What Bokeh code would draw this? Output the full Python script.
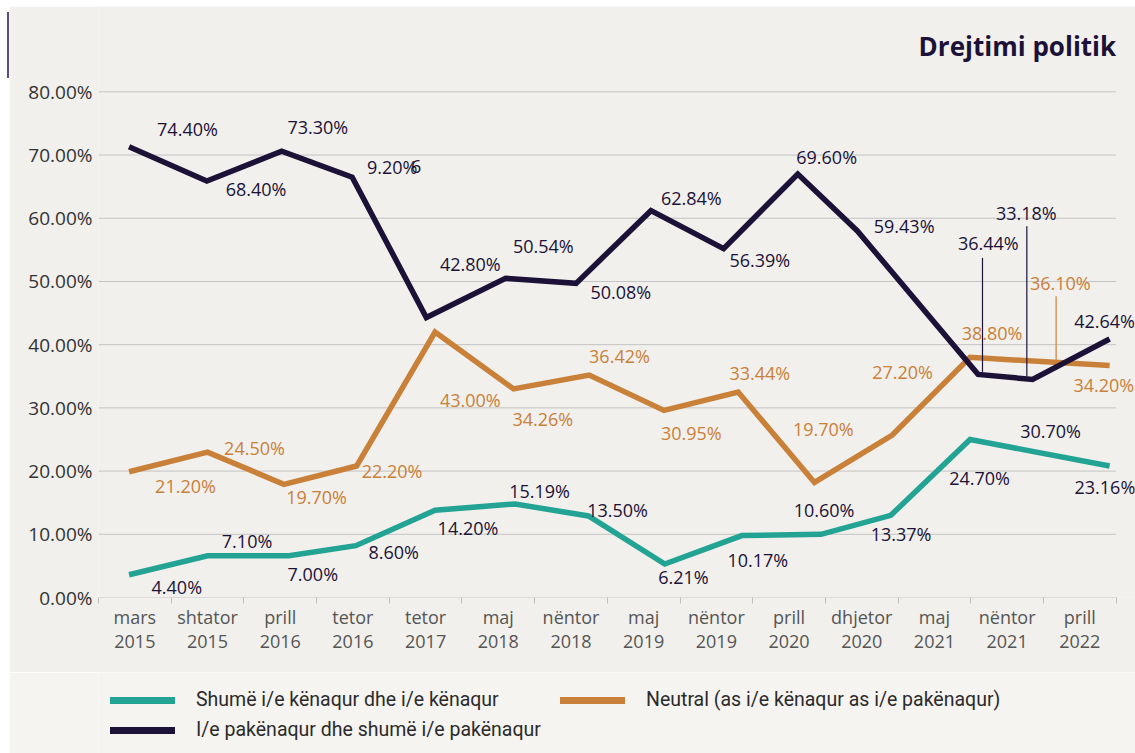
from bokeh.plotting import figure
from bokeh.models import (ColumnDataSource, LabelSet, Label, Range1d, FixedTicker,
                          Legend, LegendItem, Spacer, Div)
from bokeh.layouts import column, row
from bokeh.core.properties import value
from bokeh.embed import file_html
from bokeh.resources import INLINE

# ---------------- data ----------------
categories = ["mars\n2015", "shtator\n2015", "prill\n2016", "tetor\n2016", "tetor\n2017",
              "maj\n2018", "nëntor\n2018", "maj\n2019", "nëntor\n2019", "prill\n2020",
              "dhjetor\n2020", "maj\n2021", "nëntor\n2021", "prill\n2022"]

y_ticks = [0, 10, 20, 30, 40, 50, 60, 70, 80]
y_labels = ["0.00%", "10.00%", "20.00%", "30.00%", "40.00%", "50.00%", "60.00%", "70.00%", "80.00%"]

# x positions measured in category units (0 = left edge of first category)
satisfied_x = [0.42, 1.50, 2.62, 3.54, 4.63, 5.73, 6.74, 7.79, 8.85, 9.94, 10.90, 11.99, 13.91]
satisfied_y = [3.6, 6.6, 6.6, 8.2, 13.8, 14.8, 12.9, 5.3, 9.8, 10.0, 13.0, 25.0, 20.8]

neutral_x = [0.42, 1.50, 2.55, 3.55, 4.63, 5.71, 6.75, 7.78, 8.80, 9.85, 10.92, 11.99, 13.91]
neutral_y = [19.9, 23.0, 17.9, 20.8, 42.0, 33.0, 35.2, 29.6, 32.5, 18.2, 25.7, 38.0, 36.7]

dissatisfied_x = [0.42, 1.49, 2.52, 3.49, 4.51, 5.60, 6.57, 7.60, 8.60, 9.62, 10.44, 12.10, 12.85, 13.91]
dissatisfied_y = [71.3, 65.9, 70.6, 66.5, 44.3, 50.5, 49.7, 61.2, 55.2, 67.0, 58.0, 35.3, 34.5, 40.9]

series_names = ["Shumë i/e kënaqur dhe i/e kënaqur",
                "Neutral (as i/e kënaqur as i/e pakënaqur)",
                "I/e pakënaqur dhe shumë i/e pakënaqur"]

# data labels as printed on the chart
navy_text = ["74.40%", "68.40%", "73.30%", "9.20%", "6", "42.80%", "50.54%", "50.08%", "62.84%",
             "56.39%", "69.60%", "59.43%", "36.44%", "33.18%", "42.64%",
             "4.40%", "7.10%", "7.00%", "8.60%", "14.20%", "15.19%", "13.50%", "6.21%",
             "10.17%", "10.60%", "13.37%", "24.70%", "30.70%", "23.16%"]
navy_lx = [1.224, 2.168, 3.017, 4.040, 4.370, 5.115, 6.119, 7.185, 8.155,
           9.098, 10.017, 11.083, 12.241, 12.764, 13.840,
           1.077, 2.044, 2.948, 4.060, 5.083, 6.068, 7.141, 8.048,
           9.070, 9.982, 11.041, 12.121, 13.097, 13.845]
navy_ly = [74.18, 64.70, 74.39, 68.17, 68.17, 52.73, 55.57, 48.30, 63.27,
           53.36, 69.69, 58.77, 56.05, 60.79, 43.76,
           1.71, 8.96, 3.68, 7.24, 11.02, 16.84, 13.88, 3.24,
           5.88, 13.88, 10.04, 18.85, 26.29, 17.47]

orange_text = ["21.20%", "24.50%", "19.70%", "22.20%", "43.00%", "34.26%", "36.42%", "30.95%",
               "33.44%", "19.70%", "27.20%", "38.80%", "36.10%", "34.20%"]
orange_lx = [1.197, 2.146, 3.000, 4.038, 5.115, 6.112, 7.167, 8.155,
             9.098, 9.971, 11.061, 12.293, 13.231, 13.830]
orange_ly = [17.71, 23.67, 15.84, 20.03, 31.18, 28.22, 38.26, 25.96,
             35.49, 26.64, 35.60, 41.82, 49.77, 33.60]

# leader lines for the crowded labels at the right
leader_x = [12.161, 12.771, 13.174]
leader_top = [53.72, 58.74, 47.67]
leader_bottom = [35.70, 35.02, 37.55]
leader_color = ["#1c1238", "#1c1238", "#c98039"]

# ---------------- style ----------------
BG = "#f1f0ec"
LEG_BG = "#f5f4f1"
TEAL = "#22a393"
ORANGE = "#c98039"
NAVY = "#1c1238"
FONT = "Open Sans"
N = len(categories)

p = figure(width=1126, height=666, x_range=Range1d(0, 14.266), y_range=Range1d(0, 93.5),
           output_backend="svg", toolbar_location=None,
           min_border_left=89, min_border_right=0, min_border_top=0, min_border_bottom=75,
           background_fill_color=BG, border_fill_color=BG, outline_line_color=None)
p.grid.visible = False

# horizontal grid lines spanning the categories
p.segment(x0=[0] * len(y_ticks), y0=y_ticks, x1=[N] * len(y_ticks), y1=y_ticks,
          line_color="#c3c3c3", line_width=1)

# y axis
ya = p.yaxis[0]
ya.ticker = FixedTicker(ticks=y_ticks)
ya.major_label_overrides = {t: l for t, l in zip(y_ticks, y_labels)}
ya.axis_line_color = None
ya.major_tick_line_color = None
ya.major_tick_out = 0
ya.major_tick_in = 0
ya.minor_tick_line_color = None
ya.major_label_standoff = 6
ya.major_label_text_font = FONT
ya.major_label_text_font_size = "19px"
ya.major_label_text_color = "#333333"

# x axis: labels at category centres, tick marks at category boundaries
xa = p.xaxis[0]
centres = [i + 0.5 for i in range(N)]
bounds = [i for i in range(N + 1)]
xa.ticker = FixedTicker(ticks=centres, minor_ticks=bounds)
xa.major_label_overrides = {c: l for c, l in zip(centres, categories)}
xa.major_tick_line_color = None
xa.major_tick_out = 0
xa.major_tick_in = 0
xa.minor_tick_in = 0
xa.minor_tick_out = 6
xa.minor_tick_line_color = "#bdbdbd"
xa.axis_line_color = None
xa.major_label_standoff = 1
xa.major_label_text_font = FONT
xa.major_label_text_font_size = "18px"
xa.major_label_text_line_height = 1.0
xa.major_label_text_color = "#555555"

# series
p.line(satisfied_x, satisfied_y, line_color=TEAL, line_width=5.5, line_join="miter")
p.line(neutral_x, neutral_y, line_color=ORANGE, line_width=5.5, line_join="miter")
p.line(dissatisfied_x, dissatisfied_y, line_color=NAVY, line_width=5.5, line_join="miter")

# leader lines
p.segment(x0=leader_x, y0=leader_top, x1=leader_x, y1=leader_bottom,
          line_color=leader_color, line_width=1.2)

# data labels
for txt, lx, ly, col in [(navy_text, navy_lx, navy_ly, NAVY),
                         (orange_text, orange_lx, orange_ly, ORANGE)]:
    src = ColumnDataSource(dict(x=lx, y=ly, t=txt))
    p.add_layout(LabelSet(x="x", y="y", text="t", source=src, text_align="center",
                          text_baseline="middle", text_font=value(FONT),
                          text_font_size=value("18px"), text_color=col))

# title
p.add_layout(Label(x=N, y=87.3, text="Drejtimi politik", text_align="right",
                   text_baseline="alphabetic", text_font=FONT, text_font_size="26px",
                   text_font_style="bold", text_color=NAVY))

# ---------------- legend strip ----------------
leg = figure(width=1126, height=81, x_range=Range1d(0, 1), y_range=Range1d(-2000, -1000),
             output_backend="svg", toolbar_location=None, x_axis_type=None, y_axis_type=None,
             min_border_left=89, min_border_right=0, min_border_top=0, min_border_bottom=0,
             background_fill_color=LEG_BG, border_fill_color=LEG_BG, outline_line_color=None)
leg.grid.visible = False
# legend proxies (same series, outside the strip's visible range)
l1 = leg.line(satisfied_x, satisfied_y, line_color=TEAL, line_width=7, line_cap="round")
l2 = leg.line(neutral_x, neutral_y, line_color=ORANGE, line_width=7, line_cap="round")
l3 = leg.line(dissatisfied_x, dissatisfied_y, line_color=NAVY, line_width=7, line_cap="round")
legend = Legend(items=[LegendItem(label=series_names[0], renderers=[l1]),
                       LegendItem(label=series_names[1], renderers=[l2]),
                       LegendItem(label=series_names[2], renderers=[l3])],
                orientation="horizontal", ncols=2, location=(12, 12),
                glyph_width=65, glyph_height=20, label_height=20, label_width=357,
                label_standoff=21, spacing=7, padding=0, margin=0,
                background_fill_alpha=0, border_line_color=None,
                label_text_font="Roboto", label_text_font_size="19.5px",
                label_text_color="#2b2b2b")
leg.add_layout(legend)

# accent bar at the top left of the panel
bar = column(Spacer(height=6, margin=0),
             Div(width=2, height=66, margin=0, styles={"background-color": "#5b4c86"}),
             spacing=0, margin=0)

layout = column(Spacer(height=6, margin=0),
                row(Spacer(width=7, margin=0), bar, column(p, leg, spacing=0), spacing=0),
                spacing=0)
open("out.html", "w").write(file_html(layout, INLINE))
